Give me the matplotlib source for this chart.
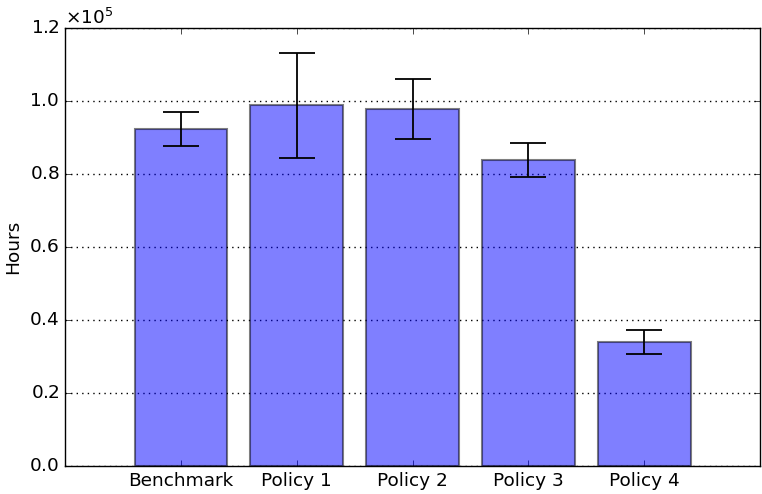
import matplotlib
matplotlib.use("Agg")
import matplotlib.pyplot as plt
import numpy as np

categories = ["Benchmark", "Policy 1", "Policy 2", "Policy 3", "Policy 4"]
means = [92300, 98900, 97800, 83800, 34000]
err_low = [87700, 84500, 89600, 79200, 30600]
err_high = [97000, 113200, 106100, 88500, 37200]

plt.style.use("classic")
plt.rcParams["font.family"] = ["DejaVu Sans"]
plt.rcParams["mathtext.fontset"] = "dejavusans"

fs = 13.3
fig = plt.figure(figsize=(7.62, 4.94), dpi=100)
ax = fig.add_axes([0.0853, 0.0567, 0.9121, 0.8866])

x = np.arange(len(categories))
m = np.array(means)
yerr = np.array([m - np.array(err_low), np.array(err_high) - m])
ax.bar(x, m, width=0.8, align="center", color="blue", alpha=0.5,
       edgecolor="black", linewidth=1.5, zorder=2)
ax.errorbar(x, m, yerr=yerr, fmt="none", ecolor="black", elinewidth=1.3,
            capsize=13, capthick=1.3, zorder=3)

ax.set_xlim(-1, 5)
ax.set_ylim(0, 120000)
ax.set_xticks(x)
ax.set_xticklabels(categories, fontsize=fs)
ax.set_yticks(np.arange(0, 120001, 20000))
ax.ticklabel_format(axis="y", style="sci", scilimits=(0, 0), useMathText=True)
ax.tick_params(axis="y", labelsize=fs)
ax.yaxis.get_offset_text().set_fontsize(fs)
ax.set_ylabel("Hours", fontsize=fs)
ax.yaxis.grid(True, linestyle=":", color="black", linewidth=1)
ax.set_axisbelow(True)

fig.savefig("out.png", dpi=100)
